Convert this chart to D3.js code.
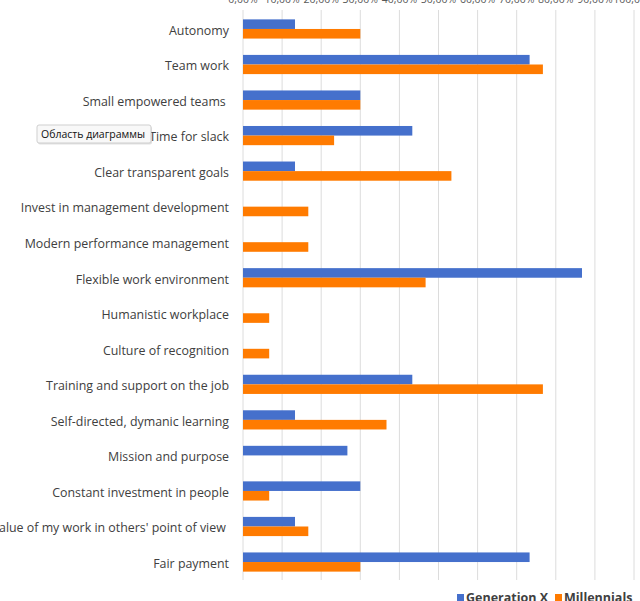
<!DOCTYPE html>
<html>
<head>
<meta charset="utf-8">
<script src="https://cdn.jsdelivr.net/npm/d3@7"></script>
<style>
  body { margin: 0; background: #fff; }
  svg { display: block; font-family: "Open Sans", sans-serif; }
</style>
</head>
<body>
<div id="chart"></div>
<script>
// categories top to bottom, values in percent
const categories = [
  "Autonomy", "Team work", "Small empowered teams ", "Time for slack",
  "Clear transparent goals", "Invest in management development",
  "Modern performance management", "Flexible work environment",
  "Humanistic workplace", "Culture of recognition",
  "Training and support on the job", "Self-directed, dymanic learning",
  "Mission and purpose", "Constant investment in people",
  "Value of my work in others' point of view ", "Fair payment"
];
const genX =        [13.3, 73.3, 30, 43.3, 13.3, 0, 0, 86.7, 0, 0, 43.3, 13.3, 26.7, 30, 13.3, 73.3];
const millennials = [30, 76.7, 30, 23.3, 53.3, 16.7, 16.7, 46.7, 6.7, 6.7, 76.7, 36.7, 0, 6.7, 16.7, 30];
const series = ["Generation X", "Millennials"];
const colors = ["#4570cc", "#ff7b00"];
const ticks = d3.range(0, 101, 10);

const width = 640, height = 601;
const svg = d3.select("#chart").append("svg")
  .attr("width", width).attr("height", height);

const x = d3.scaleLinear().domain([0, 100]).range([243, 634]);
const y = d3.scaleBand().domain(categories).range([11.2, 579.8]).paddingInner(0.46).paddingOuter(0.23);
const ySub = d3.scaleBand().domain(series).range([0, y.bandwidth()]);

// gridlines
svg.append("g").selectAll("line").data(ticks).join("line")
  .attr("x1", d => x(d)).attr("x2", d => x(d))
  .attr("y1", 10).attr("y2", 580)
  .attr("stroke", "#dcdcdc").attr("stroke-width", 1);

// top tick labels (cut by the top edge, as in the screenshot)
svg.append("g").selectAll("text").data(ticks).join("text")
  .attr("x", d => x(d)).attr("y", 3)
  .attr("text-anchor", "middle")
  .attr("font-size", 10.5).attr("fill", "#595959")
  .text(d => d.toFixed(2).replace(".", ",") + "%");

// bars
const rows = categories.map((c, i) => ({ cat: c, vals: [genX[i], millennials[i]] }));
const groups = svg.append("g").selectAll("g").data(rows).join("g")
  .attr("transform", d => `translate(0,${y(d.cat)})`);
groups.selectAll("rect").data(d => d.vals.map((v, j) => ({ v, s: series[j], c: colors[j] })))
  .join("rect")
    .attr("x", x(0))
    .attr("y", d => ySub(d.s))
    .attr("width", d => x(d.v) - x(0))
    .attr("height", ySub.bandwidth())
    .attr("fill", d => d.c);

// category labels
svg.append("g").selectAll("text").data(categories).join("text")
  .attr("x", 229)
  .attr("y", d => y(d) + y.bandwidth() / 2 + 1.5)
  .attr("dy", "0.35em")
  .attr("text-anchor", "end")
  .attr("font-size", 12.4).attr("fill", "#404040")
  .style("white-space", "pre")
  .text(d => d);

// legend
const legend = svg.append("g").selectAll("g").data(series).join("g")
  .attr("transform", (d, i) => `translate(${[457, 555][i]},598)`);
legend.append("rect").attr("x", 0).attr("y", -4).attr("width", 7).attr("height", 7)
  .attr("fill", (d, i) => colors[i]);
legend.append("text").attr("x", 9).attr("y", 0).attr("dy", "0.35em")
  .attr("font-size", 12.5).attr("font-weight", 700).attr("fill", "#404040")
  .text(d => d);

// tooltip from the screenshot
const tip = svg.append("g").attr("transform", "translate(37,125)");
tip.append("rect").attr("x", 1).attr("y", 1.5).attr("width", 114).attr("height", 18)
  .attr("fill", "#000").attr("opacity", 0.12).attr("rx", 2);
tip.append("rect").attr("width", 114).attr("height", 18)
  .attr("fill", "#f8f8f8").attr("stroke", "#cfcfcf").attr("rx", 2);
tip.append("text").attr("x", 4).attr("y", 9).attr("dy", "0.35em")
  .attr("font-size", 10.5).attr("fill", "#111")
  .text("Область диаграммы");
</script>
</body>
</html>
